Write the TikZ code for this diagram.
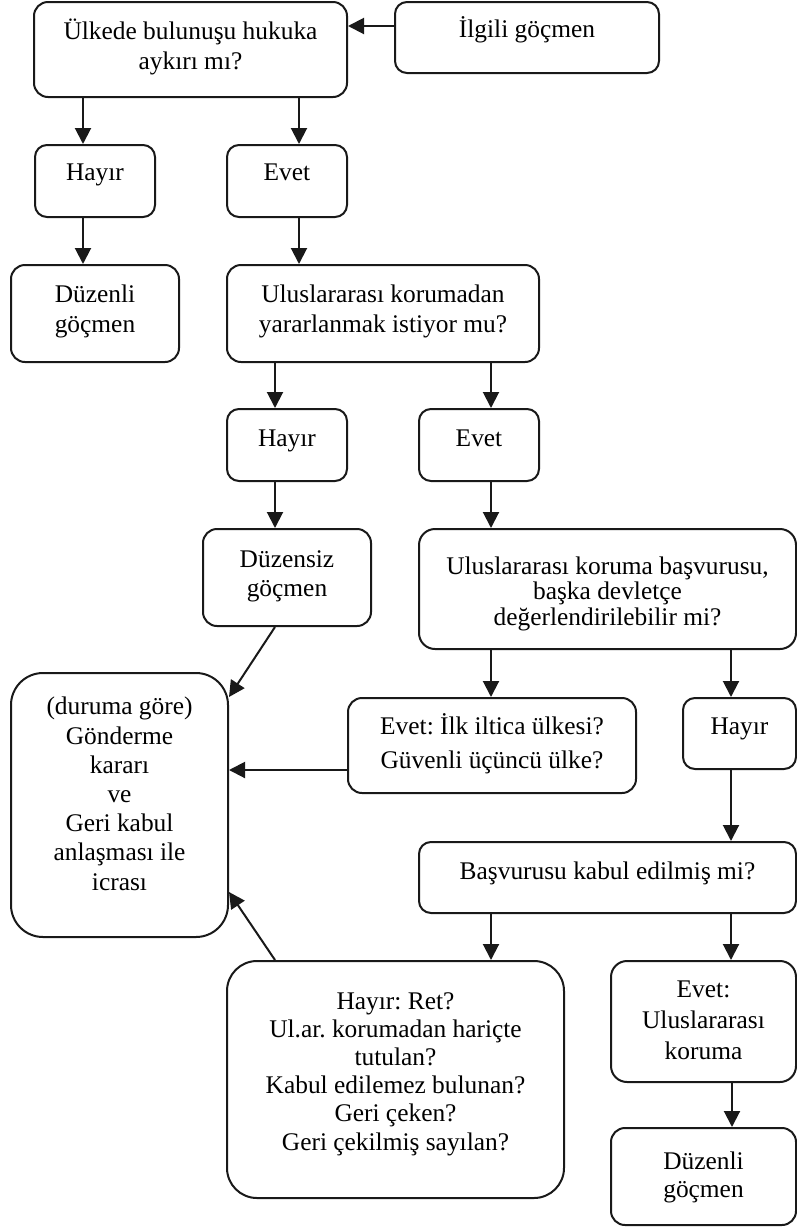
\documentclass[tikz,border=0pt]{standalone}
\usepackage{fontspec}
\setmainfont{Liberation Serif}
\usetikzlibrary{arrows.meta}
\frenchspacing
\begin{document}
\begin{tikzpicture}[x=1pt,y=-1pt,
  box/.style={draw=black!90, line width=2pt, rounded corners=#1, inner sep=0pt},
  box/.default=12pt,
  % anchor=base sits on the baseline of the last line
  lbl/.style={align=center, inner sep=0pt, anchor=base, font=\fontsize{25.4}{#1}\selectfont},
  lbl/.default=30pt,
  arr/.style={line width=2pt, draw=black!90, -{Triangle[length=16pt,width=16pt]}}]
\useasboundingbox (0,0) rectangle (797,1227);

% boxes
\node[box=14pt, minimum width=313pt, minimum height=95pt] (q1) at (190.5,49.5) {};
\node[box, minimum width=264pt, minimum height=71pt] (ilg) at (527,37.5) {};
\node[box, minimum width=120pt, minimum height=72pt] (hay1) at (95,181) {};
\node[box, minimum width=120pt, minimum height=72pt] (evet1) at (287,181) {};
\node[box=14pt, minimum width=168pt, minimum height=97pt] (duz1) at (95,313.5) {};
\node[box=14pt, minimum width=312pt, minimum height=97pt] (q2) at (383,313.5) {};
\node[box, minimum width=120pt, minimum height=72pt] (hay2) at (287,445) {};
\node[box, minimum width=120pt, minimum height=72pt] (evet2) at (479,445) {};
\node[box=14pt, minimum width=168pt, minimum height=97pt] (duzsiz) at (287,577.5) {};
\node[box=16pt, minimum width=377pt, minimum height=120pt] (q3) at (607.5,589) {};
\node[box=32pt, minimum width=217pt, minimum height=264pt] (send) at (119.5,805) {};
\node[box=14pt, minimum width=288pt, minimum height=95pt] (ilk) at (492,745.5) {};
\node[box, minimum width=113pt, minimum height=71pt] (hay3) at (739.5,733.5) {};
\node[box, minimum width=377pt, minimum height=71pt] (q4) at (607.5,877.5) {};
\node[box=30pt, minimum width=337pt, minimum height=237pt] (ret) at (395.5,1079.5) {};
\node[box=16pt, minimum width=185pt, minimum height=121pt] (kor) at (703.5,1021.5) {};
\node[box=14pt, minimum width=185pt, minimum height=97pt] (duz2) at (703.5,1176.5) {};

% texts
\node[lbl] (q1t) at (190.5,69) {Ülkede bulunuşu hukuka\\aykırı mı?};
\node[lbl] (ilgt) at (527,37) {İlgili göçmen};
\node[lbl] (hay1t) at (95,180) {Hayır};
\node[lbl] (evet1t) at (287,180) {Evet};
\node[lbl] (duz1t) at (95,332) {Düzenli\\göçmen};
\node[lbl] (q2t) at (383,332) {Uluslararası korumadan\\yararlanmak istiyor mu?};
\node[lbl] (hay2t) at (287,446) {Hayır};
\node[lbl] (evet2t) at (479,446) {Evet};
\node[lbl=29pt] (duzsizt) at (287,596) {Düzensiz\\göçmen};
\node[lbl=25.5pt] (q3t) at (607.5,625) {Uluslararası koruma başvurusu,\\başka devletçe\\değerlendirilebilir mi?};
\node[lbl=29.2pt] (sendt) at (119.5,890) {(duruma göre)\\Gönderme\\kararı\\ve\\Geri kabul\\anlaşması ile\\icrası};
\node[lbl=34pt] (ilkt) at (492,768) {Evet: İlk iltica ülkesi?\\Güvenli üçüncü ülke?};
\node[lbl] (hay3t) at (739.5,734) {Hayır};
\node[lbl] (q4t) at (607.5,879) {Başvurusu kabul edilmiş mi?};
\node[lbl=28.2pt] (rett) at (395.5,1150) {Hayır: Ret?\\Ul.ar. korumadan hariçte\\tutulan?\\Kabul edilemez bulunan?\\Geri çeken?\\Geri çekilmiş sayılan?};
\node[lbl=31pt] (kort) at (703.5,1059) {Evet:\\Uluslararası\\koruma};
\node[lbl=28pt] (duz2t) at (703.5,1197) {Düzenli\\göçmen};

% connectors
\draw[arr] (ilg.west |- 0,26) -- (q1.east |- 0,26);
\draw[arr] (q1.south -| 83,0) -- (hay1.north -| 83,0);
\draw[arr] (q1.south -| 299,0) -- (evet1.north -| 299,0);
\draw[arr] (hay1.south -| 83,0) -- (duz1.north -| 83,0);
\draw[arr] (evet1.south -| 299,0) -- (q2.north -| 299,0);
\draw[arr] (q2.south -| 275,0) -- (hay2.north -| 275,0);
\draw[arr] (q2.south -| 491,0) -- (evet2.north -| 491,0);
\draw[arr] (hay2.south -| 275,0) -- (duzsiz.north -| 275,0);
\draw[arr] (evet2.south -| 491,0) -- (q3.north -| 491,0);
\draw[arr] (duzsiz.south -| 275,0) -- (send.east |- 0,697);
\draw[arr] (q3.south -| 491,0) -- (ilk.north -| 491,0);
\draw[arr] (q3.south -| 731,0) -- (hay3.north -| 731,0);
\draw[arr] (ilk.west |- 0,770) -- (send.east |- 0,770);
\draw[arr] (hay3.south -| 731,0) -- (q4.north -| 731,0);
\draw[arr] (q4.south -| 491,0) -- (ret.north -| 491,0);
\draw[arr] (q4.south -| 731,0) -- (kor.north -| 731,0);
\draw[arr] (ret.north -| 275,0) -- (send.east |- 0,892);
\draw[arr] (kor.south -| 732,0) -- (duz2.north -| 732,0);
\end{tikzpicture}
\end{document}
